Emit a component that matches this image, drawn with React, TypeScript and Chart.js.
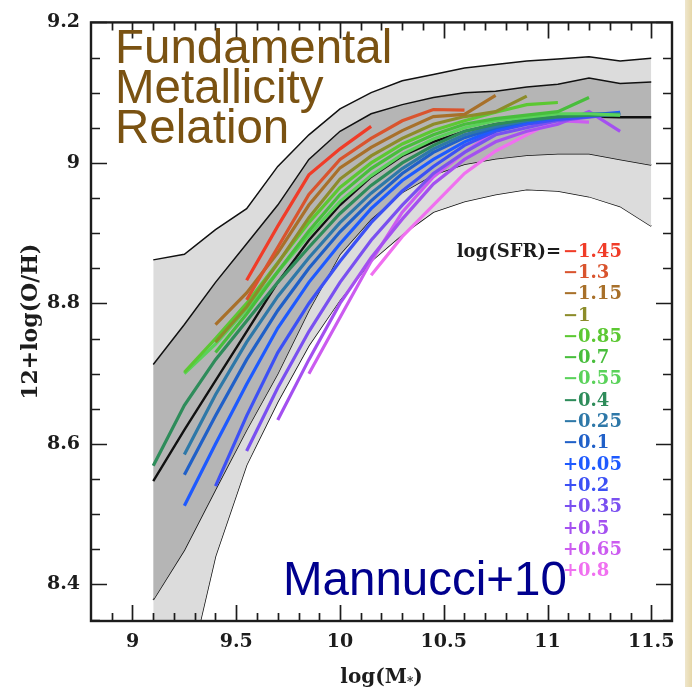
import React, { useEffect, useRef } from 'react';
import { Chart, registerables } from 'chart.js';

Chart.register(...registerables);

// Stellar-mass bins (log M*) at which the coloured median curves are sampled
const MASS_BINS = [9.1, 9.25, 9.4, 9.55, 9.7, 9.85, 10.0, 10.15, 10.3, 10.45, 10.6, 10.75, 10.9, 11.05, 11.2, 11.35];

// Median 12+log(O/H) per log(SFR) bin
const Z_SFR_M145 = [null, null, null, 8.833, 8.91, 8.983, 9.02, 9.052, null, null, null, null, null, null, null, null];
const Z_SFR_M130 = [null, null, null, 8.805, 8.88, 8.955, 9.005, 9.035, 9.06, 9.076, 9.075, null, null, null, null, null];
const Z_SFR_M115 = [null, null, 8.77, 8.815, 8.872, 8.94, 8.993, 9.022, 9.046, 9.066, 9.069, 9.096, null, null, null, null];
const Z_SFR_M100 = [null, null, 8.745, 8.795, 8.857, 8.922, 8.977, 9.01, 9.035, 9.055, 9.066, 9.073, 9.095, null, null, null];
const Z_SFR_M085 = [null, 8.702, 8.75, 8.8, 8.858, 8.915, 8.965, 9.0, 9.027, 9.046, 9.06, 9.072, 9.083, 9.086, null, null];
const Z_SFR_M070 = [null, null, 8.73, 8.785, 8.845, 8.903, 8.955, 8.992, 9.02, 9.04, 9.055, 9.063, 9.068, 9.073, 9.093, null];
const Z_SFR_M055 = [null, 8.7, 8.742, 8.792, 8.845, 8.897, 8.945, 8.982, 9.012, 9.034, 9.05, 9.06, 9.065, 9.07, 9.07, 9.068];
const Z_SFR_M040 = [8.569, 8.655, 8.72, 8.775, 8.83, 8.88, 8.928, 8.968, 9.0, 9.025, 9.045, 9.055, 9.062, 9.066, 9.068, 9.068];
const Z_SFR_M025 = [null, 8.585, 8.67, 8.745, 8.81, 8.865, 8.915, 8.957, 8.992, 9.02, 9.04, 9.052, 9.06, 9.065, 9.068, 9.07];
const Z_SFR_M010 = [null, 8.556, 8.64, 8.72, 8.79, 8.85, 8.902, 8.946, 8.985, 9.015, 9.036, 9.05, 9.06, 9.065, 9.07, 9.07];
const Z_SFR_P005 = [null, 8.512, 8.6, 8.685, 8.765, 8.83, 8.885, 8.935, 8.975, 9.005, 9.03, 9.048, 9.058, 9.065, 9.068, 9.072];
const Z_SFR_P020 = [null, null, 8.54, 8.64, 8.73, 8.8, 8.86, 8.915, 8.96, 8.995, 9.025, 9.045, 9.055, 9.062, 9.066, 9.07];
const Z_SFR_P035 = [null, null, null, 8.59, 8.68, 8.76, 8.83, 8.89, 8.94, 8.985, 9.015, 9.04, 9.05, 9.06, 9.065, 9.07];
const Z_SFR_P050 = [null, null, null, null, 8.634, 8.72, 8.8, 8.865, 8.92, 8.97, 9.005, 9.03, 9.045, 9.055, 9.073, 9.045];
const Z_SFR_P065 = [null, null, null, null, null, 8.7, 8.78, 8.86, 8.93, 8.98, 9.015, 9.045, 9.055, 9.06, 9.058, null];
const Z_SFR_P080 = [null, null, null, null, null, null, null, 8.84, 8.895, 8.94, 8.985, 9.017, 9.04, 9.062, null, null];

const SFR_LABELS = ['\u22121.45', '\u22121.3', '\u22121.15', '\u22121', '\u22120.85', '\u22120.7', '\u22120.55', '\u22120.4', '\u22120.25', '\u22120.1', '+0.05', '+0.2', '+0.35', '+0.5', '+0.65', '+0.8'];
const SFR_COLORS = ['#f03c28', '#d9542e', '#a8702a', '#8c8c2a', '#5cc832', '#48be3c', '#5ad25a', '#2e8c5a', '#2e78a8', '#2060c8', '#1e5aff', '#3c50f5', '#7a50f0', '#a450f0', '#cc5cf0', '#f070f0'];
const SFR_SERIES = [Z_SFR_M145, Z_SFR_M130, Z_SFR_M115, Z_SFR_M100, Z_SFR_M085, Z_SFR_M070, Z_SFR_M055, Z_SFR_M040, Z_SFR_M025, Z_SFR_M010, Z_SFR_P005, Z_SFR_P020, Z_SFR_P035, Z_SFR_P050, Z_SFR_P065, Z_SFR_P080];

// Mass-metallicity distribution of the whole sample: median and percentile envelopes
const BAND_MASS = [9.1, 9.25, 9.4, 9.55, 9.7, 9.85, 10.0, 10.15, 10.3, 10.45, 10.6, 10.75, 10.9, 11.05, 11.2, 11.35, 11.5];
const OUTER_UPPER = [8.862, 8.87, 8.905, 8.935, 8.995, 9.04, 9.077, 9.1, 9.117, 9.126, 9.135, 9.14, 9.145, 9.148, 9.151, 9.145, 9.149];
const INNER_UPPER = [8.713, 8.77, 8.83, 8.885, 8.94, 9.005, 9.045, 9.07, 9.083, 9.093, 9.1, 9.102, 9.108, 9.112, 9.121, 9.113, 9.115];
const MEDIAN = [8.547, 8.62, 8.69, 8.76, 8.83, 8.89, 8.94, 8.98, 9.01, 9.03, 9.045, 9.055, 9.06, 9.063, 9.066, 9.065, 9.065];
const INNER_LOWER = [8.378, 8.449, 8.535, 8.62, 8.7, 8.79, 8.87, 8.92, 8.958, 8.983, 8.998, 9.006, 9.011, 9.013, 9.013, 9.005, 8.997];
const OUTER_LOWER = [7.95, 8.25, 8.44, 8.57, 8.66, 8.74, 8.805, 8.86, 8.898, 8.93, 8.945, 8.955, 8.962, 8.96, 8.952, 8.938, 8.91];

const X_TICKS = [9, 9.5, 10, 10.5, 11, 11.5];
const Y_TICKS = [8.4, 8.6, 8.8, 9, 9.2];

const SERIF = '"DejaVu Serif", serif';
const SANS = '"Liberation Sans", Arial, sans-serif';

const toPoints = (xs: number[], ys: (number | null)[]) =>
  xs.map((x, i) => ({ x, y: ys[i] })).filter((p) => p.y !== null) as { x: number; y: number }[];

const decorPlugin = {
  id: 'decor',
  afterDatasetsDraw(chart: any) {
    const { ctx, chartArea: a, scales } = chart;
    const xs = scales.x;
    const ys = scales.y;
    ctx.save();
    ctx.strokeStyle = '#1c1c1c';
    ctx.lineWidth = 1.7;
    ctx.beginPath();
    for (let i = 89; i <= 115; i++) {
      const px = Math.round(xs.getPixelForValue(i / 10)) + 0.5;
      const len = i % 5 === 0 ? 16 : 8;
      ctx.moveTo(px, a.bottom);
      ctx.lineTo(px, a.bottom - len);
      ctx.moveTo(px, a.top);
      ctx.lineTo(px, a.top + len);
    }
    for (let i = 167; i <= 184; i++) {
      const py = Math.round(ys.getPixelForValue(i / 20)) + 0.5;
      const len = i % 4 === 0 ? 16 : 9;
      ctx.moveTo(a.left, py);
      ctx.lineTo(a.left + len, py);
      ctx.moveTo(a.right, py);
      ctx.lineTo(a.right - len, py);
    }
    ctx.stroke();
    ctx.lineWidth = 2.4;
    ctx.strokeRect(a.left, a.top, a.right - a.left, a.bottom - a.top);
    ctx.restore();
  },
  afterDraw(chart: any) {
    const { ctx, chartArea: a } = chart;
    ctx.save();
    // axis titles
    ctx.fillStyle = '#1c1c1c';
    ctx.font = `bold 22px ${SERIF}`;
    ctx.textAlign = 'center';
    ctx.textBaseline = 'middle';
    ctx.save();
    ctx.translate(31, (a.top + a.bottom) / 2);
    ctx.rotate(-Math.PI / 2);
    ctx.fillText('12+log(O/H)', 0, 0);
    ctx.restore();
    const cx = (a.left + a.right) / 2;
    const base = 683;
    ctx.textAlign = 'left';
    ctx.textBaseline = 'alphabetic';
    const big = `bold 20px ${SERIF}`;
    const small = `bold 12px ${SERIF}`;
    const head = 'log(M';
    ctx.font = big;
    const wHead = ctx.measureText(head).width;
    const wTail = ctx.measureText(')').width;
    ctx.font = small;
    const wStar = ctx.measureText('*').width;
    const startX = cx - (wHead + wStar + wTail) / 2;
    ctx.font = big;
    ctx.fillText(head, startX, base);
    ctx.font = small;
    ctx.fillText('*', startX + wHead, base + 3);
    ctx.font = big;
    ctx.fillText(')', startX + wHead + wStar, base);

    // SFR legend
    ctx.font = `bold 18px ${SERIF}`;
    ctx.textBaseline = 'middle';
    ctx.textAlign = 'right';
    ctx.fillStyle = '#1c1c1c';
    ctx.fillText('log(SFR)=', 561, 252);
    ctx.textAlign = 'left';
    SFR_LABELS.forEach((lab, i) => {
      ctx.fillStyle = SFR_COLORS[i];
      ctx.fillText(lab, 563, 252 + i * 21.3);
    });

    // headline annotations
    ctx.textBaseline = 'alphabetic';
    ctx.font = `47.5px ${SANS}`;
    ctx.fillStyle = '#7a5212';
    ctx.fillText('Fundamental', 115, 63);
    ctx.fillText('Metallicity', 115, 103);
    ctx.fillText('Relation', 115, 143);
    ctx.fillStyle = '#00008e';
    ctx.fillText('Mannucci+10', 283, 595);
    ctx.restore();
  },
};

export default function App() {
  const canvasRef = useRef<HTMLCanvasElement | null>(null);

  useEffect(() => {
    document.body.style.margin = '0';
    const canvas = canvasRef.current;
    if (!canvas) return;

    const sfrSets = SFR_SERIES.map((ys, i) => ({
      label: SFR_LABELS[i],
      data: toPoints(MASS_BINS, ys),
      borderColor: SFR_COLORS[i],
      borderWidth: 3.2,
      pointRadius: 0,
      fill: false,
      tension: 0,
    }));
    const n = sfrSets.length;
    const bandLine = (label: string, ys: number[], width: number, extra: any = {}) => ({
      label,
      data: toPoints(BAND_MASS, ys),
      borderColor: '#111111',
      borderWidth: width,
      pointRadius: 0,
      tension: 0,
      fill: false,
      ...extra,
    });

    const datasets = [
      ...sfrSets,
      bandLine('median', MEDIAN, 2.4),
      bandLine('64% upper', INNER_UPPER, 1.5, { fill: { target: n + 2 }, backgroundColor: '#b5b5b5' }),
      bandLine('64% lower', INNER_LOWER, 1.5),
      bandLine('90% upper', OUTER_UPPER, 1.5, { fill: { target: n + 4 }, backgroundColor: '#dcdcdc' }),
      bandLine('90% lower', OUTER_LOWER, 1.5),
    ];

    const chart = new Chart(canvas, {
      type: 'line',
      data: { datasets },
      options: {
        animation: false,
        responsive: false,
        maintainAspectRatio: false,
        layout: { padding: { left: 0, top: 17, right: 20, bottom: 0 } },
        plugins: { legend: { display: false }, tooltip: { enabled: false }, filler: { propagate: false } },
        scales: {
          x: {
            type: 'linear',
            min: 8.8,
            max: 11.6,
            grid: { display: false, drawTicks: false },
            border: { display: false },
            afterBuildTicks: (axis: any) => {
              axis.ticks = X_TICKS.map((v) => ({ value: v }));
            },
            afterFit: (axis: any) => {
              axis.height = 66;
            },
            ticks: {
              padding: 10,
              color: '#1c1c1c',
              font: { family: SERIF, size: 19, weight: 'bold' },
              maxRotation: 0,
              callback: (v: any) => String(v),
            },
          },
          y: {
            type: 'linear',
            min: 8.348,
            max: 9.2,
            grid: { display: false, drawTicks: false },
            border: { display: false },
            afterBuildTicks: (axis: any) => {
              axis.ticks = Y_TICKS.map((v) => ({ value: v }));
            },
            afterFit: (axis: any) => {
              axis.width = 91;
            },
            ticks: {
              padding: 11,
              color: '#1c1c1c',
              font: { family: SERIF, size: 19, weight: 'bold' },
              callback: (v: any) => String(v),
            },
          },
        },
      },
      plugins: [decorPlugin],
    });
    return () => chart.destroy();
  }, []);

  return (
    <div style={{ position: 'relative', width: 692, height: 687, background: '#ffffff', overflow: 'hidden' }}>
      <canvas ref={canvasRef} width={692} height={687} style={{ display: 'block' }} />
      <div style={{ position: 'absolute', left: 685, top: 0, width: 7, height: 687, background: 'linear-gradient(90deg, #efe6cc, #e6d7a8)' }} />
    </div>
  );
}
